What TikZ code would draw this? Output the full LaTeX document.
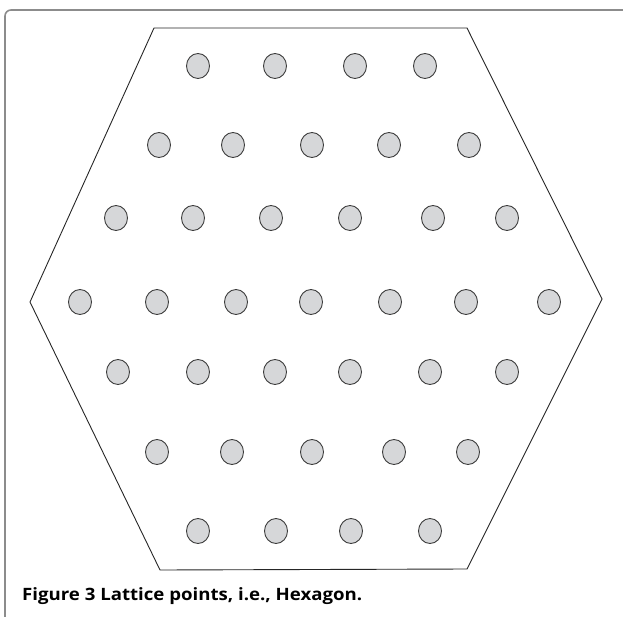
\documentclass[tikz,border=0pt]{standalone}
\usepackage{fontspec}
\setmainfont{Open Sans}
\usetikzlibrary{shapes.geometric}
\definecolor{framegray}{RGB}{140,140,140}
\definecolor{dotfill}{RGB}{214,215,217}
\definecolor{dotline}{RGB}{60,60,60}
\tikzset{
  dot/.style={ellipse,draw=dotline,fill=dotfill,line width=0.9pt,minimum width=23pt,minimum height=25pt,inner sep=0pt},
  hexline/.style={draw=black!85,line width=0.9pt,line join=miter},
  framestyle/.style={draw=framegray,line width=1.6pt,rounded corners=6pt},
}
\begin{document}
\begin{tikzpicture}[x=1pt,y=-1pt]
\useasboundingbox (0,0) rectangle (623,617);
\path[framestyle] (5,620) -- (5,10) -- (626,10);
\path[hexline] (154,28) -- (467,28) -- (602,299) -- (467,569) -- (160,570) -- (30,302) -- cycle;
\foreach \x [count=\i] in {198,275,355,425} \node[dot] (a\i) at (\x,66) {};
\foreach \x [count=\i] in {159,233,312,389,469} \node[dot] (b\i) at (\x,145) {};
\foreach \x [count=\i] in {116,193,271,350,433,507} \node[dot] (c\i) at (\x,218) {};
\foreach \x [count=\i] in {80,157,236,311,390,466,549} \node[dot] (d\i) at (\x,302) {};
\foreach \x [count=\i] in {118,198,275,350,430,507} \node[dot] (e\i) at (\x,372) {};
\foreach \x [count=\i] in {157,232,312,394,468} \node[dot] (f\i) at (\x,452) {};
\foreach \x [count=\i] in {198,276,351,430} \node[dot] (g\i) at (\x,531) {};
\node[anchor=base west,inner sep=0pt] (cap) at (22,600) {\resizebox{340pt}{\height}{\fontsize{17}{20}\selectfont\bfseries Figure 3 Lattice points, i.e., Hexagon.}};
\end{tikzpicture}
\end{document}
